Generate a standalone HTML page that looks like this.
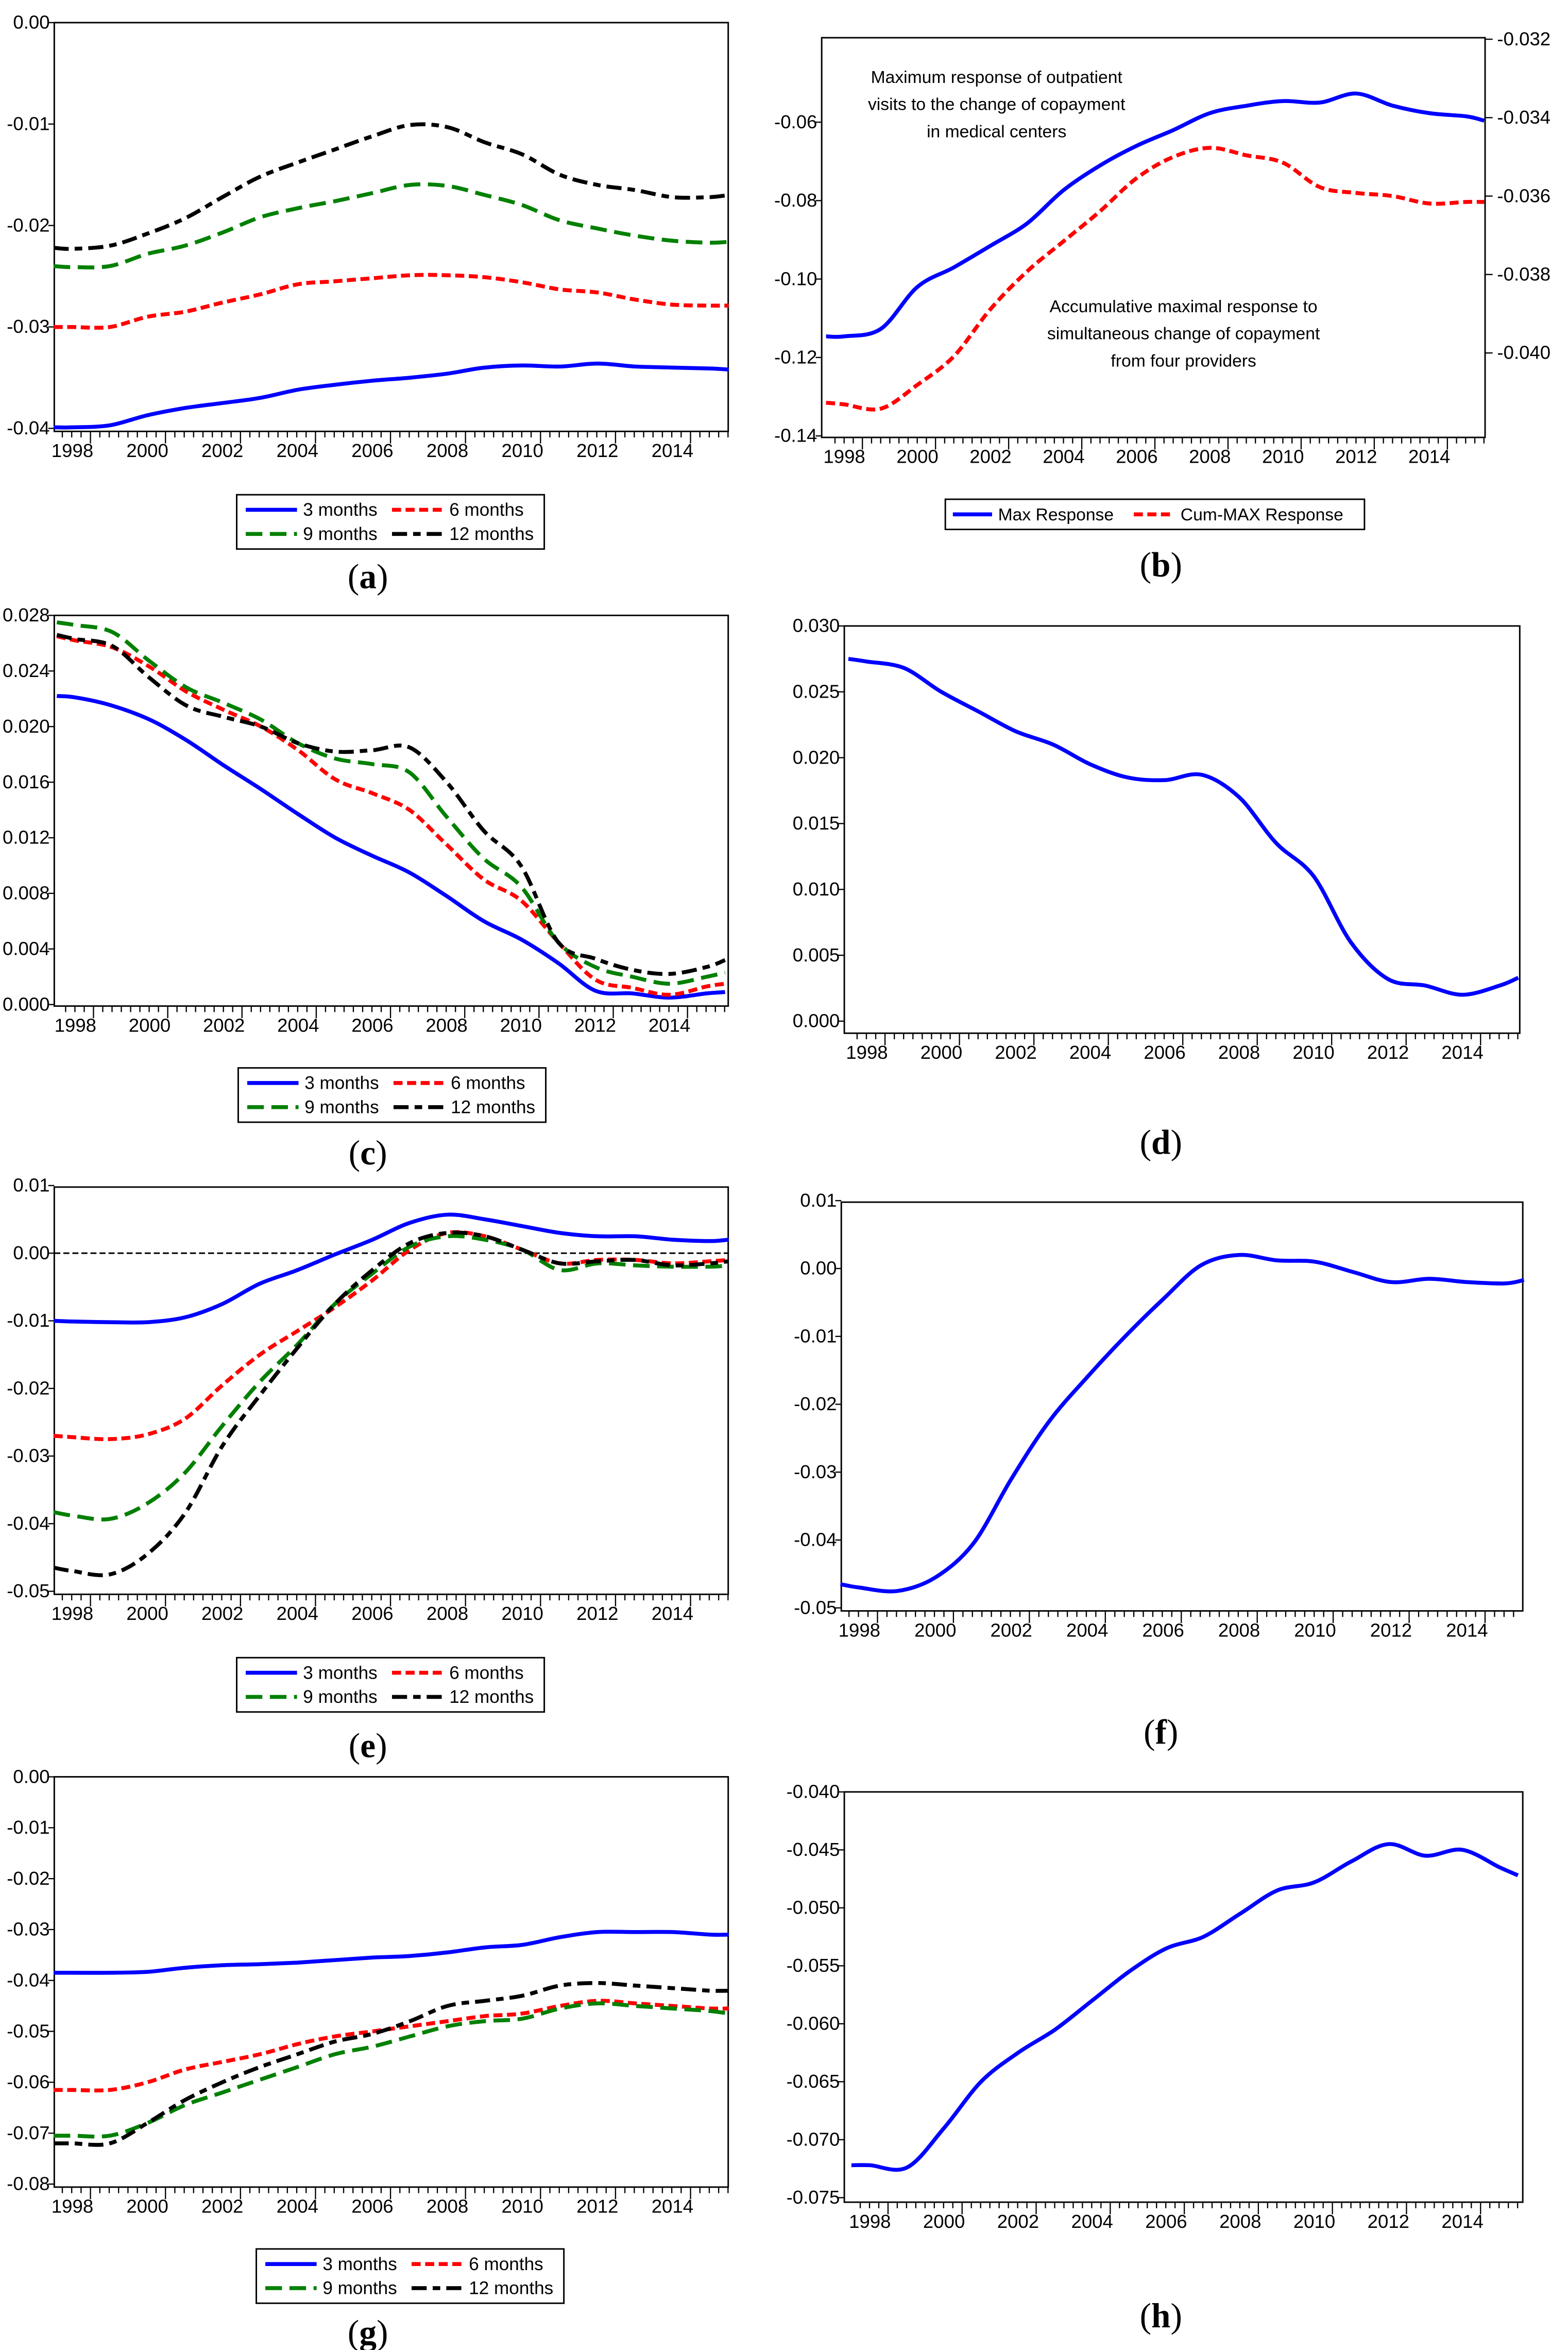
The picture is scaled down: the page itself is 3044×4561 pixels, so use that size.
<!DOCTYPE html>
<html><head><meta charset="utf-8"><style>
html,body{margin:0;padding:0;background:#fff;}
svg{display:block;}
text{font-family:"Liberation Sans Narrow","Liberation Sans",sans-serif;fill:#000;}
.lab{font-family:"Liberation Serif",serif;font-size:23px;}
</style></head><body>
<svg id="fig" width="3044" height="4561" viewBox="0 0 1040 1558" preserveAspectRatio="none" xmlns="http://www.w3.org/2000/svg"></svg>
<script>
const years=[1997.5,1998,1999,2000,2001,2002,2003,2004,2005,2006,2007,2008,2009,2010,2011,2012,2013,2014,2015,2015.5];
const a3=[-0.0399,-0.0399,-0.0397,-0.0387,-0.0380,-0.0375,-0.0370,-0.0362,-0.0357,-0.0353,-0.0350,-0.0346,-0.0340,-0.0338,-0.0339,-0.0336,-0.0339,-0.0340,-0.0341,-0.0342];
const a6=[-0.0300,-0.0300,-0.0300,-0.0290,-0.0285,-0.0276,-0.0268,-0.0258,-0.0255,-0.0252,-0.0249,-0.0249,-0.0251,-0.0256,-0.0263,-0.0266,-0.0273,-0.0278,-0.0279,-0.0279];
const a9=[-0.0240,-0.0241,-0.0240,-0.0228,-0.0220,-0.0207,-0.0192,-0.0183,-0.0176,-0.0168,-0.0160,-0.0161,-0.0170,-0.0180,-0.0195,-0.0203,-0.0210,-0.0215,-0.0217,-0.0216];
const a12=[-0.0222,-0.0223,-0.0220,-0.0208,-0.0193,-0.0172,-0.0152,-0.0138,-0.0125,-0.0112,-0.0101,-0.0103,-0.0118,-0.0130,-0.0150,-0.0160,-0.0165,-0.0172,-0.0172,-0.0170];
const bMax=[-0.1146,-0.1146,-0.1127,-0.1020,-0.0970,-0.0915,-0.0858,-0.0773,-0.0710,-0.0660,-0.0620,-0.0577,-0.0558,-0.0546,-0.0550,-0.0527,-0.0558,-0.0577,-0.0585,-0.0596];
const bCum=[-0.04127,-0.04131,-0.04142,-0.04081,-0.04008,-0.03888,-0.03792,-0.03715,-0.03638,-0.03554,-0.03500,-0.03477,-0.03496,-0.03515,-0.03577,-0.03592,-0.03600,-0.03619,-0.03615,-0.03615];
const c3=[0.0222,0.0221,0.0215,0.0205,0.0190,0.0172,0.0155,0.0137,0.0120,0.0107,0.0095,0.0078,0.0060,0.0047,0.0030,0.0010,0.0008,0.0005,0.0008,0.0009];
const c6=[0.0265,0.0262,0.0257,0.0243,0.0225,0.0212,0.0200,0.0183,0.0162,0.0152,0.0140,0.0115,0.0090,0.0075,0.0045,0.0018,0.0012,0.0007,0.0013,0.0015];
const c9=[0.0275,0.0273,0.0268,0.0247,0.0228,0.0217,0.0205,0.0188,0.0177,0.0173,0.0167,0.0135,0.0105,0.0085,0.0045,0.0027,0.0020,0.0015,0.0020,0.0023];
const c12=[0.0266,0.0263,0.0258,0.0235,0.0215,0.0207,0.0200,0.0188,0.0182,0.0183,0.0185,0.0160,0.0125,0.0100,0.0045,0.0033,0.0025,0.0022,0.0027,0.0032];
const dMax=[0.0275,0.0273,0.0268,0.0250,0.0235,0.0220,0.0210,0.0195,0.0185,0.0183,0.0187,0.0170,0.0135,0.0110,0.0060,0.0032,0.0027,0.0020,0.0027,0.0033];
const e3=[-0.0100,-0.0101,-0.0102,-0.0102,-0.0095,-0.0075,-0.0045,-0.0025,-0.0002,0.0020,0.0045,0.0057,0.0050,0.0040,0.0030,0.0025,0.0025,0.0020,0.0018,0.0020];
const e6=[-0.0270,-0.0272,-0.0275,-0.0268,-0.0245,-0.0195,-0.0150,-0.0115,-0.0080,-0.0040,0.0005,0.0030,0.0025,0.0005,-0.0015,-0.0010,-0.0010,-0.0015,-0.0012,-0.0010];
const e9=[-0.0383,-0.0388,-0.0393,-0.0370,-0.0325,-0.0255,-0.0190,-0.0135,-0.0075,-0.0030,0.0010,0.0025,0.0020,0.0005,-0.0025,-0.0015,-0.0018,-0.0020,-0.0020,-0.0018];
const e12=[-0.0465,-0.0470,-0.0475,-0.0445,-0.0385,-0.0285,-0.0210,-0.0140,-0.0075,-0.0025,0.0015,0.0030,0.0025,0.0005,-0.0015,-0.0012,-0.0010,-0.0018,-0.0015,-0.0012];
const fMax=[-0.0465,-0.0470,-0.0475,-0.0455,-0.0405,-0.0310,-0.0225,-0.0160,-0.0100,-0.0045,0.0005,0.0020,0.0012,0.0010,-0.0005,-0.0020,-0.0015,-0.0020,-0.0022,-0.0017];
const g3=[-0.0385,-0.0385,-0.0385,-0.0383,-0.0375,-0.0370,-0.0368,-0.0365,-0.0360,-0.0355,-0.0352,-0.0345,-0.0335,-0.0330,-0.0315,-0.0305,-0.0305,-0.0305,-0.0310,-0.0310];
const g6=[-0.0615,-0.0615,-0.0615,-0.0600,-0.0575,-0.0560,-0.0545,-0.0525,-0.0510,-0.0500,-0.0490,-0.0480,-0.0470,-0.0465,-0.0450,-0.0440,-0.0445,-0.0450,-0.0455,-0.0455];
const g9=[-0.0705,-0.0705,-0.0705,-0.0680,-0.0645,-0.0620,-0.0595,-0.0570,-0.0545,-0.0530,-0.0510,-0.0490,-0.0480,-0.0475,-0.0455,-0.0445,-0.0450,-0.0455,-0.0460,-0.0465];
const g12=[-0.0720,-0.0720,-0.0720,-0.0680,-0.0635,-0.0600,-0.0570,-0.0545,-0.0520,-0.0505,-0.0480,-0.0450,-0.0440,-0.0430,-0.0410,-0.0405,-0.0410,-0.0415,-0.0420,-0.0420];
const hMax=[-0.0722,-0.0722,-0.0724,-0.0690,-0.0650,-0.0625,-0.0605,-0.0580,-0.0555,-0.0535,-0.0525,-0.0505,-0.0485,-0.0478,-0.0460,-0.0445,-0.0455,-0.0450,-0.0465,-0.0472];
const yearLabels=[1998,2000,2002,2004,2006,2008,2010,2012,2014];
const ticksA=["0.00","-0.01","-0.02","-0.03","-0.04"];
const ticksBL=["-0.06","-0.08","-0.10","-0.12","-0.14"];
const ticksBR=["-0.032","-0.034","-0.036","-0.038","-0.040"];
const ticksC=["0.028","0.024","0.020","0.016","0.012","0.008","0.004","0.000"];
const ticksD=["0.030","0.025","0.020","0.015","0.010","0.005","0.000"];
const ticksE=["0.01","0.00","-0.01","-0.02","-0.03","-0.04","-0.05"];
const ticksG=["0.00","-0.01","-0.02","-0.03","-0.04","-0.05","-0.06","-0.07","-0.08"];
const ticksH=["-0.040","-0.045","-0.050","-0.055","-0.060","-0.065","-0.070","-0.075"];

const NS="http://www.w3.org/2000/svg";
const svg=document.getElementById('fig');
function mk(tag,attrs,parent){const e=document.createElementNS(NS,tag);for(const k in attrs)e.setAttribute(k,attrs[k]);(parent||svg).appendChild(e);return e;}
const STY={
 blue:{stroke:'#0000ff',dash:''},
 red:{stroke:'#ff0000',dash:'6,3'},
 green:{stroke:'#008000',dash:'11,5'},
 black:{stroke:'#000000',dash:'10,4,5,4'}
};
function smoothPath(P){
 let d='M'+P[0][0].toFixed(1)+','+P[0][1].toFixed(1);
 for(let i=0;i<P.length-1;i++){
  const p0=P[Math.max(0,i-1)],p1=P[i],p2=P[i+1],p3=P[Math.min(P.length-1,i+2)];
  const c1x=p1[0]+(p2[0]-p0[0])/6,c1y=p1[1]+(p2[1]-p0[1])/6;
  const c2x=p2[0]-(p3[0]-p1[0])/6,c2y=p2[1]-(p3[1]-p1[1])/6;
  d+=' C'+c1x.toFixed(1)+','+c1y.toFixed(1)+' '+c2x.toFixed(1)+','+c2y.toFixed(1)+' '+p2[0].toFixed(1)+','+p2[1].toFixed(1);
 }
 return d;
}
function panel(id,cfg){
 const g=mk('g',{});
 
 
 const {x0,x1,y0,y1,xa,xb,va,pa,vb,pb}=cfg;
 const X=t=>xa+(t-1998)*(xb-xa)/16;
 const Y=v=>pa+(v-va)*(pb-pa)/(vb-va);
 const frame=mk('rect',{x:x0,y:y0,width:x1-x0,height:y1-y0,fill:'none',stroke:'#000','stroke-width':1},g);
 
 
 for(let q=0;q<=80;q++){const t=1997.25+q*0.25;const tx=X(t)+12;if(tx<x0||tx>x1)continue;
  const major=Math.abs(t-Math.round(t))<1e-6&&Math.round(t)%2===0;
  mk('line',{x1:tx,y1:y1,x2:tx,y2:y1+(major?8:4),stroke:'#000','stroke-width':0.8},g);}
 yearLabels.forEach(yr=>{const t=mk('text',{x:X(yr),y:y1+17,'font-size':12.5,'text-anchor':'middle'},g);t.textContent=yr;
  });
 cfg.ticks.forEach((lab,i)=>{const v=parseFloat(lab);const ty=Y(v);
  mk('line',{x1:x0-4,y1:ty,x2:x0,y2:ty,stroke:'#000','stroke-width':0.8},g);
  const t=mk('text',{x:x0-3,y:ty+4,'font-size':12.5,'text-anchor':'end'},g);t.textContent=lab;
  });
 if(cfg.zero){const z=mk('line',{x1:x0,x2:x1,y1:Y(0),y2:Y(0),stroke:'#000','stroke-width':1,'stroke-dasharray':'4,2'},g);
  }
 cfg.series.forEach(s=>{
  const Yf=s.Y||Y;
  const P=years.map((t,i)=>[X(t),Yf(s.data[i])]);
  const st=STY[s.c];
  const p=mk('path',{d:smoothPath(P),fill:'none',stroke:st.stroke,'stroke-width':2.6,'stroke-linejoin':'round','stroke-dasharray':st.dash},g);
  
  
 });
 return {g,X,Y};
}
function legend4(x,y,w){
 const g=mk('g',{});
 
 
 mk('rect',{x:x,y:y,width:w,height:36,fill:'#fff',stroke:'#000','stroke-width':1},g);
 const items=[['blue','3 months',0,0],['red','6 months',1,0],['green','9 months',0,1],['black','12 months',1,1]];
 items.forEach(([c,l,cx,cy])=>{
  const lx=x+6+cx*97, ly=y+10+cy*16;
  const e=mk('g',{},g);
  
  
  mk('line',{x1:lx,x2:lx+34,y1:ly,y2:ly,stroke:STY[c].stroke,'stroke-width':2.6,'stroke-dasharray':STY[c].dash},e);
  const t=mk('text',{x:lx+38,y:ly+4,'font-size':12},e);t.textContent=l;
 });
}
function label(x,y,s){
 const t=mk('text',{x:x,y:y,'text-anchor':'middle',class:'lab'});
 const a=document.createElementNS(NS,'tspan');a.textContent='(';t.appendChild(a);
 const b=document.createElementNS(NS,'tspan');b.setAttribute('font-weight','bold');b.textContent=s;t.appendChild(b);
 const c=document.createElementNS(NS,'tspan');c.textContent=')';t.appendChild(c);
 }

panel('a',{x0:36,x1:483,y0:15,y1:286,xa:48,xb:446,va:0,pa:15,vb:-0.04,pb:284,ticks:ticksA,
 series:[{c:'blue',name:'3-months',data:a3},{c:'red',name:'6-months',data:a6},{c:'green',name:'9-months',data:a9},{c:'black',name:'12-months',data:a12}]});
legend4(157,328,204);label(244,390,'a');

const YR=v=>26+(-0.032-v)*52/0.002;
panel('b',{x0:545,x1:985,y0:25,y1:290,xa:560,xb:948,va:-0.06,pa:81,vb:-0.14,pb:289,ticks:ticksBL,
 series:[{c:'blue',name:'max-response',data:bMax},{c:'red',name:'cum-max-response',data:bCum,Y:YR}]});
ticksBR.forEach(lab=>{const ty=YR(parseFloat(lab));
 mk('line',{x1:985,y1:ty,x2:990,y2:ty,stroke:'#000','stroke-width':0.8});
 const t=mk('text',{x:993,y:ty+4,'font-size':12.5});t.textContent=lab;
 });
[['Maximum response of outpatient',55],['visits to the change of copayment',73],['in medical centers',91]].forEach(([s,y])=>{
 const t=mk('text',{x:661,y:y,'font-size':11.5,'text-anchor':'middle'});t.textContent=s;
 });
[['Accumulative maximal response to',207],['simultaneous change of copayment',225],['from four providers',243]].forEach(([s,y])=>{
 const t=mk('text',{x:785,y:y,'font-size':11.5,'text-anchor':'middle'});t.textContent=s;
 });
(function(){const g=mk('g',{});
 mk('rect',{x:627,y:331,width:278,height:20,fill:'#fff',stroke:'#000','stroke-width':1},g);
 mk('line',{x1:632,x2:658,y1:341,y2:341,stroke:'#0000ff','stroke-width':2.6},g);
 let t=mk('text',{x:662,y:345,'font-size':11.5},g);t.textContent='Max Response';
 mk('line',{x1:752,x2:778,y1:341,y2:341,stroke:'#ff0000','stroke-width':2.6,'stroke-dasharray':'6,3'},g);
 t=mk('text',{x:783,y:345,'font-size':11.5},g);t.textContent='Cum-MAX Response';})();
label(770,382,'b');

panel('c',{x0:36,x1:483,y0:408,y1:667,xa:50,xb:444,va:0.028,pa:408,vb:0,pb:666,ticks:ticksC,
 series:[{c:'blue',name:'3-months',data:c3},{c:'red',name:'6-months',data:c6},{c:'green',name:'9-months',data:c9},{c:'black',name:'12-months',data:c12}]});
legend4(158,708,204);label(244,772,'c');

panel('d',{x0:560,x1:1008,y0:415,y1:685,xa:575,xb:970,va:0.030,pa:415,vb:0,pb:677,ticks:ticksD,
 series:[{c:'blue',name:'response',data:dMax}]});
label(770,765,'d');

panel('e',{x0:36,x1:483,y0:787,y1:1057,xa:48,xb:446,va:0.01,pa:786,vb:-0.05,pb:1055,ticks:ticksE,zero:true,
 series:[{c:'blue',name:'3-months',data:e3},{c:'red',name:'6-months',data:e6},{c:'green',name:'9-months',data:e9},{c:'black',name:'12-months',data:e12}]});
legend4(157,1099,204);label(244,1165,'e');

panel('f',{x0:558,x1:1010,y0:797,y1:1068,xa:570,xb:973,va:0.01,pa:796,vb:-0.05,pb:1066,ticks:ticksE,
 series:[{c:'blue',name:'response',data:fMax}]});
label(770,1156,'f');

panel('g',{x0:36,x1:483,y0:1178,y1:1450,xa:48,xb:446,va:0,pa:1178,vb:-0.08,pb:1448,ticks:ticksG,
 series:[{c:'blue',name:'3-months',data:g3},{c:'red',name:'6-months',data:g6},{c:'green',name:'9-months',data:g9},{c:'black',name:'12-months',data:g12}]});
legend4(170,1491,204);label(244,1554,'g');

panel('h',{x0:560,x1:1010,y0:1188,y1:1460,xa:577,xb:970,va:-0.040,pa:1188,vb:-0.075,pb:1457,ticks:ticksH,
 series:[{c:'blue',name:'response',data:hMax}]});
label(770,1543,'h');
</script>
</body></html>
